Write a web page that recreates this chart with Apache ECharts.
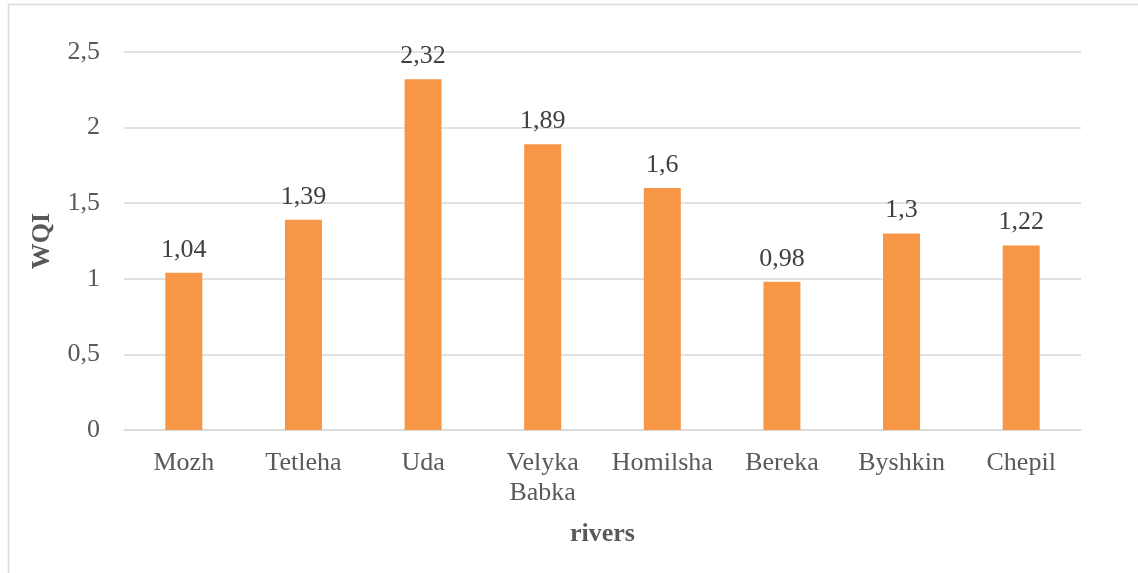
<!DOCTYPE html>
<html>
<head>
<meta charset="utf-8">
<script src="https://cdn.jsdelivr.net/npm/echarts@6/dist/echarts.min.js"></script>
<style>html,body{margin:0;padding:0;background:#fff;}#c{width:1138px;height:573px;}</style>
</head>
<body>
<div id="c"></div>
<script>
const categories = ['Mozh', 'Tetleha', 'Uda', 'Velyka\nBabka', 'Homilsha', 'Bereka', 'Byshkin', 'Chepil'];
const wqiValues = [1.04, 1.39, 2.32, 1.89, 1.6, 0.98, 1.3, 1.22];
const yTicks = [0, 0.5, 1, 1.5, 2, 2.5];

const fmt = v => String(v).replace('.', ',');
const FONT = '"Liberation Serif", "Times New Roman", serif';

const chart = echarts.init(document.getElementById('c'), null, {renderer: 'canvas'});
chart.setOption({
  backgroundColor: '#fff',
  animation: false,
  graphic: [{
    type: 'rect', z: 0,
    shape: {x: 8.5, y: 4.5, width: 1200, height: 700},
    style: {fill: 'none', stroke: '#D9D9D9', lineWidth: 1.5}
  }],
  grid: {left: 124, right: 57, top: 52, bottom: 143, containLabel: false},
  xAxis: {
    type: 'category',
    data: categories,
    name: 'rivers',
    nameLocation: 'middle',
    nameGap: 91,
    nameTextStyle: {fontFamily: FONT, fontSize: 26, fontWeight: 'bold', color: '#595959'},
    axisLine: {lineStyle: {color: '#D9D9D9', width: 1.5}},
    axisTick: {show: false},
    axisLabel: {fontFamily: FONT, fontSize: 26, color: '#595959', margin: 18, lineHeight: 30, interval: 0}
  },
  yAxis: {
    type: 'value',
    min: yTicks[0],
    max: yTicks[yTicks.length - 1],
    interval: 0.5,
    name: 'WQI',
    nameLocation: 'middle',
    nameGap: 69,
    nameTextStyle: {fontFamily: FONT, fontSize: 26, fontWeight: 'bold', color: '#595959'},
    axisLine: {show: false},
    axisTick: {show: false},
    splitLine: {lineStyle: {color: '#D9D9D9', width: 1.5}},
    axisLabel: {fontFamily: FONT, fontSize: 26, color: '#595959', margin: 24, formatter: v => fmt(v)}
  },
  series: [{
    type: 'bar',
    data: wqiValues,
    barWidth: 37,
    itemStyle: {color: '#F79646'},
    label: {
      show: true, position: 'top', distance: 10,
      fontFamily: FONT, fontSize: 26, color: '#404040',
      formatter: p => fmt(p.value)
    }
  }]
});
</script>
</body>
</html>
